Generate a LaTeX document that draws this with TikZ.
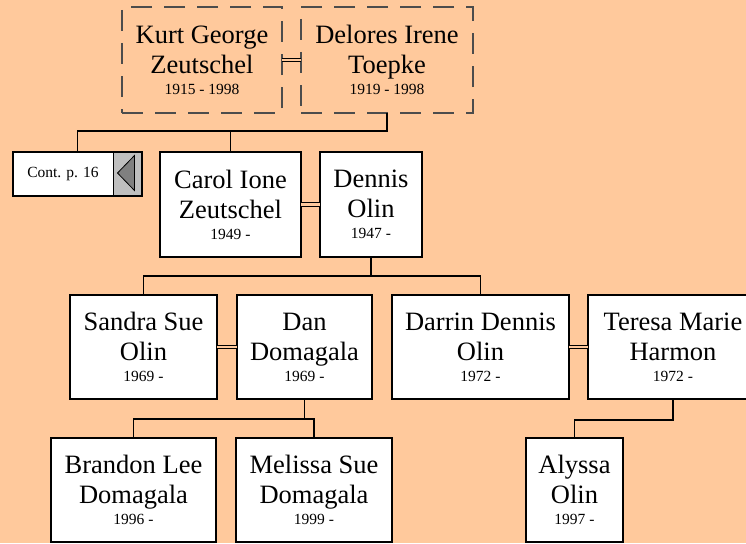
\documentclass[tikz,border=0pt]{standalone}
\usepackage{fontspec}
\setmainfont{Liberation Serif}
\usetikzlibrary{positioning,calc}

\definecolor{peach}{HTML}{FFC99C}
\tikzset{
  person/.style={draw, line width=1.3pt, fill=white, align=center,
    inner sep=0pt, outer sep=0pt, minimum height=104pt,
    font=\fontsize{26.5}{30}\selectfont},
  ancestor/.style={person, draw=black!70, fill=none,
    dash pattern=on 21pt off 12pt},
  contbox/.style={fill=white, inner sep=0pt, outer sep=0pt,
    minimum width=100pt, minimum height=44pt, font=\fontsize{15.5}{18}\selectfont},
  tabbox/.style={draw, line width=0.8pt, fill=black!25, inner sep=0pt,
    outer sep=0pt, minimum width=29pt, minimum height=44pt},
  marriage/.style={line width=1.1pt, double=peach, double distance=2.6pt},
  descent/.style={line width=1.5pt},
}
\newcommand{\yrs}[1]{\\[-9pt]{\fontsize{15.5}{18}\selectfont #1}}

\begin{document}
\begin{tikzpicture}[x=1pt, y=1pt]
  % Sizes
  \pgfmathsetmacro{\rowa}{-60}
  \pgfmathsetmacro{\rowb}{-204.5}
  \pgfmathsetmacro{\rowc}{-347}
  \pgfmathsetmacro{\rowd}{-490}
  \fill[peach] (0,0) rectangle (746,-543);
  \useasboundingbox (0,0) rectangle (746,-543);

  % people
  \node[ancestor, minimum width=160pt, minimum height=106pt] (kurt) at (202, \rowa)
    {Kurt George\\Zeutschel\yrs{1915 - 1998}};
  \node[ancestor, minimum width=172pt, minimum height=106pt] (delores) at (387, \rowa)
    {Delores Irene\\Toepke\yrs{1919 - 1998}};

  \node[person, minimum width=141pt, minimum height=105pt] (carol) at (230.5, \rowb)
    {Carol Ione\\Zeutschel\yrs{1949 -}};
  \node[person, minimum width=102pt, minimum height=105pt] (dennis) at (371, \rowb)
    {Dennis\\Olin\yrs{1947 -}};

  \node[person, minimum width=147pt] (sandra) at (143.5, \rowc)
    {Sandra Sue\\Olin\yrs{1969 -}};
  \node[person, minimum width=135pt] (dan) at (304.5, \rowc)
    {Dan\\Domagala\yrs{1969 -}};
  \node[person, minimum width=177pt] (darrin) at (480.5, \rowc)
    {Darrin Dennis\\Olin\yrs{1972 -}};
  \node[person, minimum width=170pt] (teresa) at (673, \rowc)
    {Teresa Marie\\Harmon\yrs{1972 -}};

  \node[person, minimum width=165pt] (brandon) at (133.5, \rowd)
    {Brandon Lee\\Domagala\yrs{1996 -}};
  \node[person, minimum width=156pt] (melissa) at (314, \rowd)
    {Melissa Sue\\Domagala\yrs{1999 -}};
  \node[person, minimum width=97pt] (alyssa) at (574.5, \rowd)
    {Alyssa\\Olin\yrs{1997 -}};

  % continuation box
  \node[contbox] (cont) at (63, -174) {Cont. p. 16};
  \node[tabbox, right=0pt of cont] (conttab) {};
  \draw[fill=black!50, line width=0.8pt] ($(conttab.center)+(-10,1)$)
    -- ++(17,17.5) -- ++(0,-35) -- cycle;
  \draw[line width=1.8pt] (cont.north west) rectangle (conttab.south east);
  \coordinate (conttop) at ($(cont.north west)!0.5!(conttab.north east)$);

  % marriages
  \draw[marriage] (kurt) -- (delores);
  \draw[marriage] (carol) -- (dennis);
  \draw[marriage] (sandra) -- (dan);
  \draw[marriage] (darrin) -- (teresa);

  % descent lines
  \coordinate (bara) at ($(delores.south)+(0,-18)$);
  \coordinate (barb) at ($(dennis.south)+(0,-19)$);
  \coordinate (barc) at ($(dan.south)+(0,-20)$);
  \draw[descent] (delores.south) -- (bara) -| (conttop);
  \draw[descent] (bara -| carol.north) -- (carol.north);
  \draw[descent] (dennis.south) -- (barb);
  \draw[descent] (sandra.north) |- (barb) -| (darrin.north);
  \draw[descent] (dan.south) -- (barc);
  \draw[descent] (brandon.north) |- (barc) -| (melissa.north);
  \draw[descent] (teresa.south) -- ++(0,-21) -| (alyssa.north);
\end{tikzpicture}
\end{document}
